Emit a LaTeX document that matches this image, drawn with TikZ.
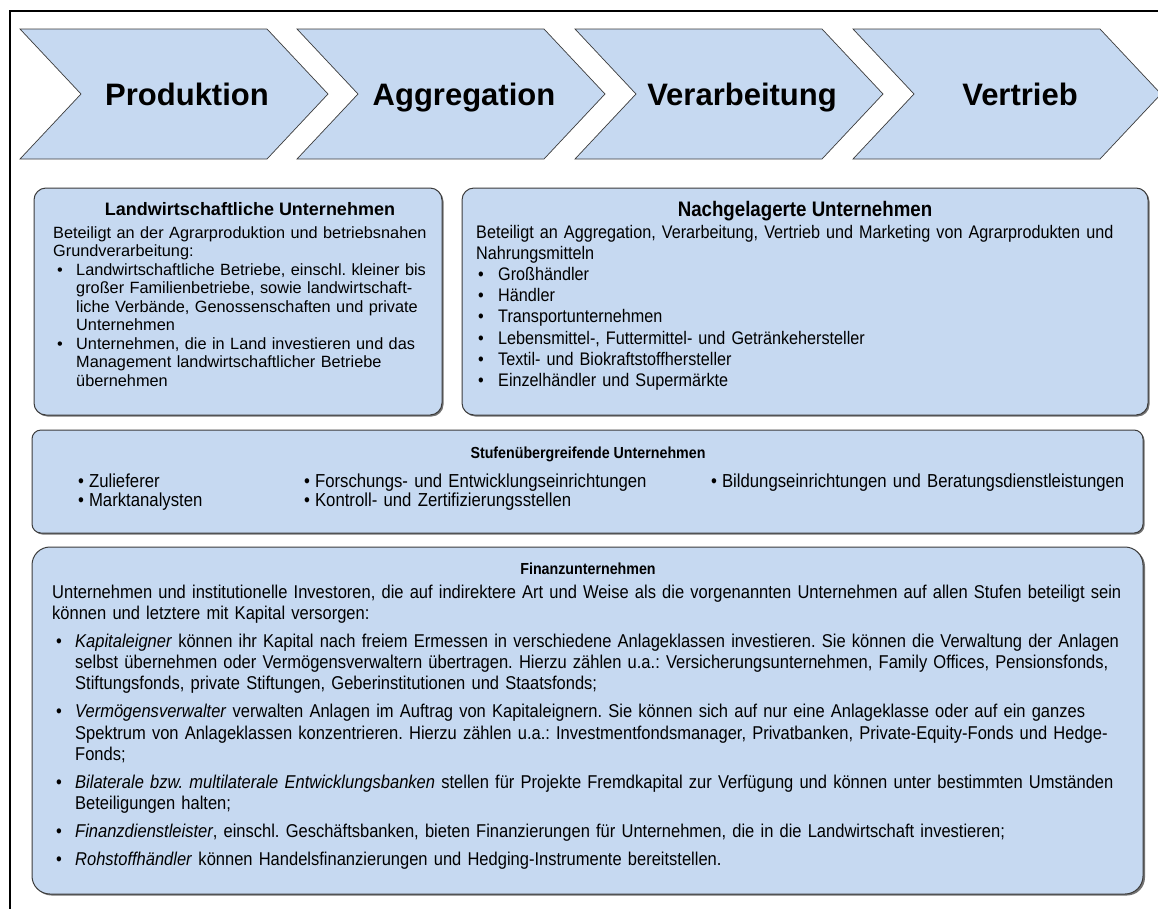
\documentclass[tikz,border=0pt]{standalone}
\usepackage{fontspec}
\setmainfont{Liberation Sans}
\newfontfamily\narrowfont[FakeStretch=0.89]{Liberation Sans}
\definecolor{fillblue}{HTML}{C6D9F1}
\definecolor{edgegray}{HTML}{3C3C3C}
\newcommand\Bul[2]{\hspace*{#1pt}\makebox[#2pt][l]{\textbullet}}
\newcommand\Ind[1]{\hspace*{#1pt}}
\frenchspacing
\begin{document}
\begin{tikzpicture}[x=1pt,y=-1pt,
  chev/.style={fill=fillblue,draw=edgegray,line width=0.7pt,line join=miter},
  chevlabel/.style={font=\fontsize{31}{31}\selectfont\bfseries,anchor=base,inner sep=0pt},
  panel/.style={fill=fillblue,draw=edgegray,line width=1pt},
  shadow/.style={fill=black!55},
  ptitle/.style={anchor=base,inner sep=0pt,font=\fontsize{18}{18}\selectfont\bfseries},
  ntitle/.style={anchor=base,inner sep=0pt,font=\narrowfont\fontsize{21}{21}\selectfont\bfseries},
  stitle/.style={anchor=base,inner sep=0pt,font=\narrowfont\fontsize{16}{16}\selectfont\bfseries},
  bodyA/.style={anchor=base west,inner sep=0pt,align=left,text width=900pt,font=\fontsize{16.3}{18.5}\selectfont},
  bodyB/.style={anchor=base west,inner sep=0pt,align=left,text width=900pt,font=\narrowfont\fontsize{18.2}{21.1}\selectfont},
  bodyC/.style={anchor=base west,inner sep=0pt,align=left,text width=500pt,font=\narrowfont\fontsize{18.8}{19}\selectfont},
  bodyD/.style={anchor=base west,inner sep=0pt,align=left,text width=1150pt,font=\narrowfont\fontsize{18.55}{21.3}\selectfont}
]
\useasboundingbox (0,0) rectangle (1158,908);
\clip (0,0) rectangle (1158,908);
\fill[white] (0,0) rectangle (1158,908);
% outer frame
\draw[line width=1.6pt,black] (10,11) rectangle (1175,925);

% chevrons
\foreach \xo/\lab/\nm in {20/Produktion/cA,297/Aggregation/cB,575/Verarbeitung/cC,853/Vertrieb/cD}{
  \draw[chev] (\xo,29) -- ++(247,0) -- ++(61,65) -- ++(-61,65) -- ++(-247,0) -- ++(61,-65) -- cycle;
  \node[chevlabel] (\nm) at (\xo+167,105) {\lab};
}

% panel 1
\fill[shadow,rounded corners=12pt] (35.5,189.5) rectangle (443.5,416.5);
\draw[panel,rounded corners=12pt] (34,188) rectangle (442,415);
\node[ptitle] (t1) at (250,215.5) {Landwirtschaftliche Unternehmen};
\node[bodyA] (b1) at (53,238) {Beteiligt an der Agrarproduktion und betriebsnahen\\
Grundverarbeitung:\\
\Bul{4}{19}Landwirtschaftliche Betriebe, einschl. kleiner bis\\
\Ind{23}großer Familienbetriebe, sowie landwirtschaft-\\
\Ind{23}liche Verbände, Genossenschaften und private\\
\Ind{23}Unternehmen\\
\Bul{4}{19}Unternehmen, die in Land investieren und das\\
\Ind{23}Management landwirtschaftlicher Betriebe\\
\Ind{23}übernehmen};

% panel 2
\fill[shadow,rounded corners=12pt] (463.5,189.5) rectangle (1149.5,416.5);
\draw[panel,rounded corners=12pt] (462,188) rectangle (1148,415);
\node[ntitle] (t2) at (805,216.5) {Nachgelagerte Unternehmen};
\node[bodyB] (b2) at (476,238.5) {Beteiligt an Aggregation, Verarbeitung, Vertrieb und Marketing von Agrarprodukten und\\
Nahrungsmitteln\\
\Bul{2}{20}Großhändler\\
\Bul{2}{20}Händler\\
\Bul{2}{20}Transportunternehmen\\
\Bul{2}{20}Lebensmittel-, Futtermittel- und Getränkehersteller\\
\Bul{2}{20}Textil- und Biokraftstoffhersteller\\
\Bul{2}{20}Einzelhändler und Supermärkte};

% panel 3
\fill[shadow,rounded corners=9pt] (33.5,431.5) rectangle (1144.5,534.5);
\draw[panel,rounded corners=9pt] (32,430) rectangle (1143,533);
\node[stitle] (t3) at (588,458) {Stufenübergreifende Unternehmen};
\node[bodyC] (c31) at (78,487) {\textbullet\hspace{5pt}Zulieferer\\\textbullet\hspace{5pt}Marktanalysten};
\node[bodyC] (c32) at (304,487) {\textbullet\hspace{5pt}Forschungs- und Entwicklungseinrichtungen\\\textbullet\hspace{5pt}Kontroll- und Zertifizierungsstellen};
\node[bodyC] (c33) at (711,487) {\textbullet\hspace{5pt}Bildungseinrichtungen und Beratungsdienstleistungen};

% panel 4
\fill[shadow,rounded corners=18pt] (33.5,548.5) rectangle (1145,895.5);
\draw[panel,rounded corners=18pt] (32,547) rectangle (1143,894);
\node[stitle] (t4) at (588,574) {Finanzunternehmen};
\node[bodyD] (b4) at (52,598) {Unternehmen und institutionelle Investoren, die auf indirektere Art und Weise als die vorgenannten Unternehmen auf allen Stufen beteiligt sein\\
können und letztere mit Kapital versorgen:\\[6.7pt]
\Bul{4}{19}\textit{Kapitaleigner} können ihr Kapital nach freiem Ermessen in verschiedene Anlageklassen investieren. Sie können die Verwaltung der Anlagen\\
\Ind{23}selbst übernehmen oder Vermögensverwaltern übertragen. Hierzu zählen u.a.: Versicherungsunternehmen, Family Offices, Pensionsfonds,\\
\Ind{23}Stiftungsfonds, private Stiftungen, Geberinstitutionen und Staatsfonds;\\[6.7pt]
\Bul{4}{19}\textit{Vermögensverwalter} verwalten Anlagen im Auftrag von Kapitaleignern. Sie können sich auf nur eine Anlageklasse oder auf ein ganzes\\
\Ind{23}Spektrum von Anlageklassen konzentrieren. Hierzu zählen u.a.: Investmentfondsmanager, Privatbanken, Private-Equity-Fonds und Hedge-\\
\Ind{23}Fonds;\\[6.7pt]
\Bul{4}{19}\textit{Bilaterale bzw. multilaterale Entwicklungsbanken} stellen für Projekte Fremdkapital zur Verfügung und können unter bestimmten Umständen\\
\Ind{23}Beteiligungen halten;\\[6.7pt]
\Bul{4}{19}\textit{Finanzdienstleister}, einschl. Geschäftsbanken, bieten Finanzierungen für Unternehmen, die in die Landwirtschaft investieren;\\[6.7pt]
\Bul{4}{19}\textit{Rohstoffhändler} können Handelsfinanzierungen und Hedging-Instrumente bereitstellen.};
\end{tikzpicture}
\end{document}
